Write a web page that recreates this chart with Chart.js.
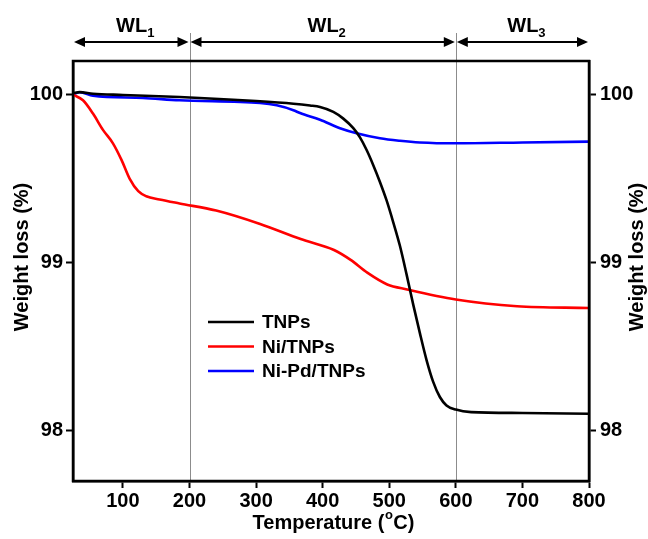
<!DOCTYPE html>
<html lang="en">
<head>
  <meta charset="UTF-8">
  <title>TGA weight loss</title>
  <script src="https://cdn.jsdelivr.net/npm/chart.js@4.4.1/dist/chart.umd.min.js"></script>
  <style>
    * { margin: 0; padding: 0; box-sizing: border-box; }
    body { background: #fff; width: 648px; height: 539px; overflow: hidden; }
    #tga { display: block; }
  </style>
</head>
<body>
  <canvas id="tga" width="648" height="539"></canvas>
  <script>
    // --- data ---
    var tnpsTemp = [25, 35, 55, 100, 185, 300, 356, 381, 396, 416, 431, 446, 456, 466, 476, 486, 496, 506, 516, 526, 536, 546, 556, 566, 576, 586, 600, 623, 700, 800];
    var tnpsWeight = [100.008, 100.015, 100.005, 99.998, 99.986, 99.962, 99.946, 99.935, 99.926, 99.897, 99.857, 99.80, 99.745, 99.67, 99.58, 99.48, 99.37, 99.24, 99.10, 98.93, 98.75, 98.58, 98.42, 98.29, 98.20, 98.15, 98.125, 98.11, 98.105, 98.10];

    var niTemp = [25, 40, 55, 70, 85, 98, 110, 123, 135, 155, 185, 240, 306, 367, 417, 442, 467, 497, 527, 600, 692, 800];
    var niWeight = [100.0, 99.966, 99.887, 99.79, 99.71, 99.61, 99.50, 99.425, 99.395, 99.376, 99.352, 99.31, 99.23, 99.14, 99.075, 99.016, 98.94, 98.87, 98.84, 98.78, 98.74, 98.73];

    var nipdTemp = [25, 35, 55, 130, 185, 306, 331, 356, 366, 396, 426, 451, 486, 516, 546, 600, 700, 800];
    var nipdWeight = [100.0, 100.014, 99.994, 99.98, 99.966, 99.95, 99.936, 99.907, 99.89, 99.85, 99.80, 99.77, 99.74, 99.725, 99.715, 99.71, 99.715, 99.72];

    var seriesNames = ["TNPs", "Ni/TNPs", "Ni-Pd/TNPs"];
    var seriesColors = ["#000000", "#ff0000", "#0000ff"];
    var xTicks = [100, 200, 300, 400, 500, 600, 700, 800];
    var yTicks = [98, 99, 100];
    var stageBounds = [25, 200, 600, 800];
    var stageNames = ["1", "2", "3"];

    var FONT = "'Liberation Sans', Arial, sans-serif";

    function toPoints(xs, ys) {
      return xs.map(function (x, i) { return { x: x, y: ys[i] }; });
    }

    function lineSet(idx, xs, ys) {
      return {
        label: seriesNames[idx],
        data: toPoints(xs, ys),
        borderColor: seriesColors[idx],
        borderWidth: 2.6,
        pointRadius: 0,
        cubicInterpolationMode: "monotone",
        fill: false
      };
    }

    function setTicks(list) {
      return function (scale) { scale.ticks = list.map(function (v) { return { value: v }; }); };
    }

    var tickFont = { family: FONT, size: 20, weight: "bold" };
    var gridOpts = { drawOnChartArea: false, drawTicks: true, tickLength: 7, tickWidth: 2, tickColor: "#000", color: "#000" };

    // arrow with filled head, tip at (x, y), pointing dir (+1 right, -1 left)
    function arrowHead(ctx, x, y, dir) {
      ctx.beginPath();
      ctx.moveTo(x, y);
      ctx.lineTo(x - dir * 11, y - 5);
      ctx.lineTo(x - dir * 11, y + 5);
      ctx.closePath();
      ctx.fill();
    }

    var decorPlugin = {
      id: "decor",
      beforeDatasetsDraw: function (chart) {
        var ctx = chart.ctx, xs = chart.scales.x, area = chart.chartArea;
        ctx.save();
        // stage separators
        ctx.strokeStyle = "#8c8c8c";
        ctx.lineWidth = 1;
        [stageBounds[1], stageBounds[2]].forEach(function (t) {
          var px = Math.round(xs.getPixelForValue(t)) + 0.5;
          ctx.beginPath();
          ctx.moveTo(px, 33);
          ctx.lineTo(px, area.bottom);
          ctx.stroke();
        });
        ctx.restore();
      },
      afterDraw: function (chart) {
        var ctx = chart.ctx, xs = chart.scales.x, area = chart.chartArea;
        ctx.save();

        // frame
        ctx.strokeStyle = "#000";
        ctx.lineWidth = 2.5;
        ctx.strokeRect(area.left, area.top, area.right - area.left, area.bottom - area.top);

        // stage arrows and WL labels
        var ay = 42;
        ctx.fillStyle = "#000";
        ctx.strokeStyle = "#000";
        ctx.lineWidth = 2;
        for (var i = 0; i < 3; i++) {
          var a = xs.getPixelForValue(stageBounds[i]) + 1;
          var b = xs.getPixelForValue(stageBounds[i + 1]) - 1;
          ctx.beginPath();
          ctx.moveTo(a + 6, ay);
          ctx.lineTo(b - 6, ay);
          ctx.stroke();
          arrowHead(ctx, a, ay, -1);
          arrowHead(ctx, b, ay, 1);

          var mid = (a + b) / 2 + 4;
          ctx.font = "bold 20px " + FONT;
          var w1 = ctx.measureText("WL").width;
          ctx.font = "bold 13px " + FONT;
          var w2 = ctx.measureText(stageNames[i]).width;
          var start = mid - (w1 + w2) / 2;
          ctx.textAlign = "left";
          ctx.textBaseline = "alphabetic";
          ctx.font = "bold 20px " + FONT;
          ctx.fillText("WL", start, 32);
          ctx.font = "bold 13px " + FONT;
          ctx.fillText(stageNames[i], start + w1, 37);
        }

        // legend
        var lx = 208, ly = 322;
        ctx.font = "bold 19px " + FONT;
        ctx.textBaseline = "middle";
        chart.data.datasets.forEach(function (ds, k) {
          var y = ly + k * 24.5;
          ctx.strokeStyle = ds.borderColor;
          ctx.lineWidth = 2.6;
          ctx.beginPath();
          ctx.moveTo(lx, y);
          ctx.lineTo(lx + 46, y);
          ctx.stroke();
          ctx.fillStyle = "#000";
          ctx.fillText(ds.label, lx + 54, y + 1);
        });

        // axis titles
        ctx.fillStyle = "#000";
        ctx.textBaseline = "middle";
        ctx.font = "bold 20px " + FONT;
        var t1 = "Temperature (", t3 = "C)";
        var w1 = ctx.measureText(t1).width, w3 = ctx.measureText(t3).width;
        ctx.font = "bold 13px " + FONT;
        var w2 = ctx.measureText("o").width;
        var cx = (area.left + area.right) / 2 + 2;
        var sx = cx - (w1 + w2 + w3) / 2;
        ctx.textAlign = "left";
        ctx.font = "bold 20px " + FONT;
        ctx.fillText(t1, sx, 523);
        ctx.font = "bold 13px " + FONT;
        ctx.fillText("o", sx + w1 + 0.5, 515);
        ctx.font = "bold 20px " + FONT;
        ctx.fillText(t3, sx + w1 + w2 + 1, 523);

        ctx.textAlign = "center";
        [22, 637].forEach(function (px) {
          ctx.save();
          ctx.translate(px, 257);
          ctx.rotate(-Math.PI / 2);
          ctx.fillText("Weight loss (%)", 0, 0);
          ctx.restore();
        });

        ctx.restore();
      }
    };

    new Chart(document.getElementById("tga"), {
      type: "line",
      data: {
        datasets: [
          lineSet(0, tnpsTemp, tnpsWeight),
          lineSet(1, niTemp, niWeight),
          lineSet(2, nipdTemp, nipdWeight)
        ]
      },
      options: {
        responsive: false,
        animation: false,
        devicePixelRatio: 1,
        layout: { padding: { top: 61, left: 0, right: 0, bottom: 0 } },
        plugins: { legend: { display: false }, tooltip: { enabled: false } },
        scales: {
          x: {
            type: "linear", position: "bottom", min: 25, max: 800,
            afterBuildTicks: setTicks(xTicks),
            afterFit: function (s) { s.height = 58; },
            grid: gridOpts,
            border: { color: "#000", width: 2.5 },
            ticks: { font: tickFont, color: "#000", padding: 1 }
          },
          y: {
            type: "linear", position: "left", min: 97.7, max: 100.2,
            afterBuildTicks: setTicks(yTicks),
            afterFit: function (s) { s.width = 73; },
            grid: gridOpts,
            border: { color: "#000", width: 2.5 },
            ticks: { font: tickFont, color: "#000", padding: 3 }
          },
          y2: {
            type: "linear", position: "right", min: 97.7, max: 100.2,
            afterBuildTicks: setTicks(yTicks),
            afterFit: function (s) { s.width = 59; },
            grid: gridOpts,
            border: { color: "#000", width: 2.5 },
            ticks: { font: tickFont, color: "#000", padding: 4 }
          }
        }
      },
      plugins: [decorPlugin]
    });
  </script>
</body>
</html>
